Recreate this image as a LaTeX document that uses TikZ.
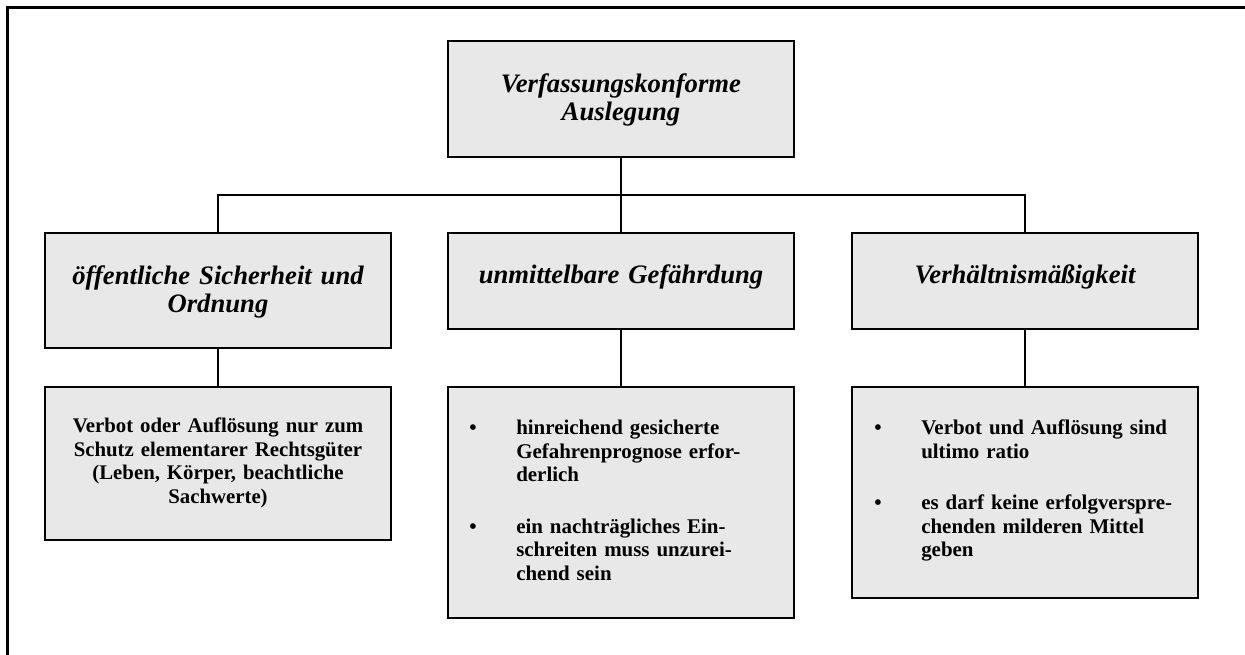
\documentclass[tikz,border=0pt]{standalone}
\usepackage{fontspec}
\setmainfont{Liberation Serif}
\definecolor{boxgray}{HTML}{E8E8E8}
\newcommand{\bul}{\makebox[35.25pt][l]{\textbullet}}
\newcommand{\ind}{\hspace*{35.25pt}}
\begin{document}
\begin{tikzpicture}[x=0.75pt,y=-0.75pt,
  box/.style={draw=black, line width=1.5pt, fill=boxgray, inner sep=0pt, minimum width=259.5pt},
  conn/.style={line width=1.5pt},
  frame/.style={line width=2.25pt},
  head/.style={inner sep=0pt, anchor=base, text width=255pt, align=center,
    font=\fontsize{20pt}{20.8pt}\selectfont\bfseries\itshape},
  body/.style={inner sep=0pt, anchor=base, text width=255pt, align=center,
    font=\fontsize{15.6pt}{17.6pt}\selectfont\bfseries},
  blist/.style={inner sep=0pt, anchor=base west, text width=245pt, align=left,
    font=\fontsize{15.7pt}{17.6pt}\selectfont\bfseries}]
\useasboundingbox (0,0) rectangle (1245,655);
\fill[white] (0,0) rectangle (1245,655);
% outer frame (only top and left visible)
\coordinate (fbl) at (7.5,670);
\coordinate (ftl) at (7.5,7.5);
\coordinate (ftr) at (1260,7.5);
\draw[frame] (fbl) -- (ftl) -- (ftr);
% boxes
\node[box, minimum height=87pt]     (top) at (621,99)    {};
\node[box, minimum height=86.25pt]  (hl)  at (218,290.5) {};
\node[box, minimum height=72pt]     (hm)  at (621,281)   {};
\node[box, minimum height=72pt]     (hr)  at (1025,281)  {};
\node[box, minimum height=114.75pt] (bl)  at (218,463.5) {};
\node[box, minimum height=173.25pt] (bm)  at (621,502.5) {};
\node[box, minimum height=158.25pt] (br)  at (1025,492.5){};
% connectors
\coordinate (busL) at (218,195);
\coordinate (busR) at (1025,195);
\draw[conn] (top.south) -- (hm.north);
\draw[conn] (hl.north) -- (busL) -- (busR) -- (hr.north);
\draw[conn] (hl.south) -- (bl.north);
\draw[conn] (hm.south) -- (bm.north);
\draw[conn] (hr.south) -- (br.north);
% texts
\node[head] (ttop) at (621,93) {Verfassungskonforme\\Auslegung};
\node[head] (thl) at (218,285) {öffentliche Sicherheit und\\Ordnung};
\node[head] (thm) at (621,284) {unmittelbare Gefährdung};
\node[head] (thr) at (1025,284) {Verhältnismäßigkeit};
\node[body] (tbl) at (218,433) {Verbot oder Auflösung nur zum\\Schutz elementarer Rechtsgüter\\(Leben, Körper, beachtliche\\Sachwerte)};
\node[blist] (tbm) at (469,435) {\bul hinreichend gesicherte\\\ind Gefahrenprognose erfor-\\\ind derlich\\[21pt]\bul ein nachträgliches Ein-\\\ind schreiten muss unzurei-\\\ind chend sein};
\node[blist] (tbr) at (874,435) {\bul Verbot und Auflösung sind\\\ind ultimo ratio\\[21pt]\bul es darf keine erfolgverspre-\\\ind chenden milderen Mittel\\\ind geben};
\end{tikzpicture}
\end{document}
